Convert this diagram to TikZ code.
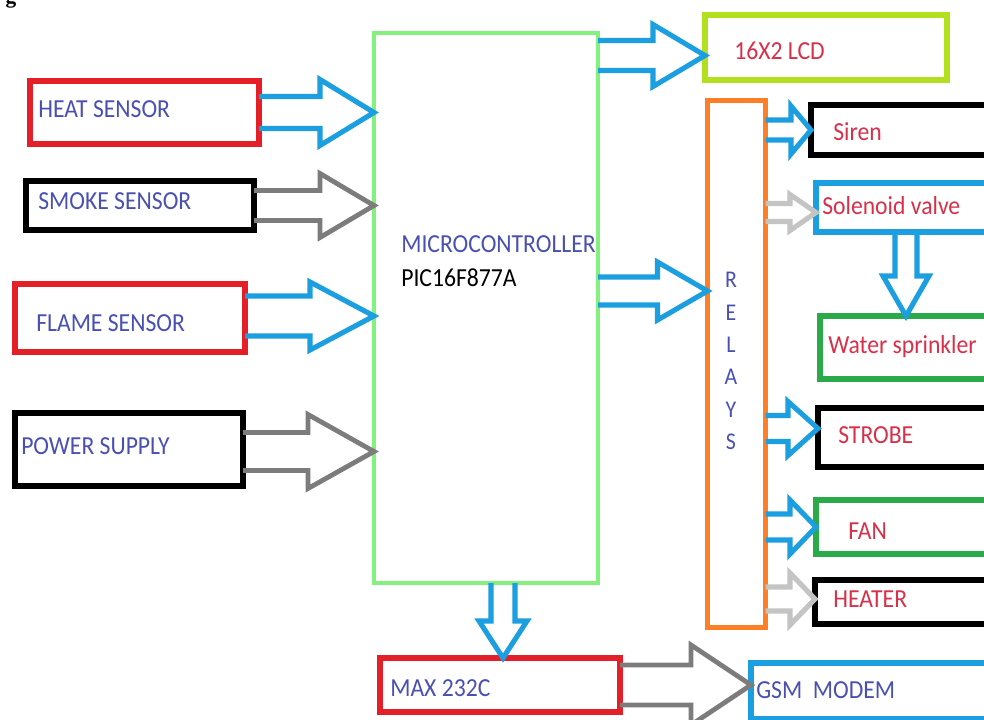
\documentclass[tikz,border=0pt]{standalone}
\usepackage{fontspec}
\setmainfont{Carlito}[FakeStretch=0.91]
\newfontfamily\serifg{Liberation Serif}
\usetikzlibrary{calc}
\definecolor{cred}{HTML}{E51F28}
\definecolor{cgreen}{HTML}{84F07E}
\definecolor{clime}{HTML}{B3E01E}
\definecolor{corange}{HTML}{FF7F27}
\definecolor{cdgreen}{HTML}{2AAA48}
\definecolor{cblue}{HTML}{1C9FE0}
\definecolor{cgray}{HTML}{7C7C7C}
\definecolor{clgray}{HTML}{C4C4C4}
\definecolor{tblue}{HTML}{4A50B2}
\definecolor{tred}{HTML}{D9304A}
\tikzset{
  box/.style={draw=#1, line width=4.5pt, rectangle, inner sep=0pt, outer sep=0pt},
  sz/.style 2 args={minimum width=#1*0.75pt, minimum height=#2*0.75pt},
  txt/.style={anchor=west, inner sep=0pt, font=\fontsize{19.5}{23}\selectfont, text=tblue},
  rtxt/.style={txt, text=tred},
  barrow/.style={draw=cblue, line width=3.8pt, line join=miter},
  garrow/.style={draw=cgray, line width=3.6pt, line join=miter},
  larrow/.style={draw=clgray, line width=3.8pt, line join=miter}
}
% right-pointing block arrow: style, start, tip, shaft half width, head half width, head length
\newcommand\rarr[6]{\draw[#1] ($(#2)+(0,#4)$) -- ($(#3)+(-#6,#4)$) -- ($(#3)+(-#6,#5)$) -- (#3) -- ($(#3)+(-#6,-#5)$) -- ($(#3)+(-#6,-#4)$) -- ($(#2)+(0,-#4)$);}
% down-pointing block arrow
\newcommand\darr[6]{\draw[#1] ($(#2)+(#4,0)$) -- ($(#3)+(#4,-#6)$) -- ($(#3)+(#5,-#6)$) -- (#3) -- ($(#3)+(-#5,-#6)$) -- ($(#3)+(-#4,-#6)$) -- ($(#2)+(-#4,0)$);}
\begin{document}
\begin{tikzpicture}[x=0.75pt,y=-0.75pt]
\useasboundingbox (0,0) rectangle (984,720);
\fill[white] (0,0) rectangle (984,720);
\node[font=\serifg\bfseries\fontsize{16}{16}\selectfont, anchor=base, inner sep=0pt] (figg) at (11,4) {g};

% input blocks
\node[box=cred, sz={229}{63}] (heat) at (144.5,112.5) {};
\node[box=black, sz={228}{49}] (smoke) at (140,205.5) {};
\node[box=cred, sz={230}{68}] (flame) at (130,318) {};
\node[box=black, sz={228}{73}] (power) at (129,449.5) {};
\node[txt] (heatT) at (38,109) {HEAT SENSOR};
\node[txt] (smokeT) at (38,201) {SMOKE SENSOR};
\node[txt] (flameT) at (36,323) {FLAME SENSOR};
\node[txt] (powerT) at (21,446) {POWER SUPPLY};

% microcontroller
\node[box=cgreen, line width=3pt, sz={224}{550}] (mcu) at (486,308) {};
\node[txt] (mcuT) at (401,244) {MICROCONTROLLER};
\node[txt, text=black] (picT) at (401,278) {PIC16F877A};

% LCD and relays
\node[box=clime, sz={242}{65}] (lcd) at (826,47.5) {};
\node[rtxt] (lcdT) at (734,51) {16X2 LCD};
\node[box=corange, line width=3.8pt, sz={58}{527}] (relays) at (736.5,364) {};
\node[anchor=center, align=center, inner sep=0pt, text=tblue, font=\fontsize{18}{24.3}\selectfont] (relT) at (731,361) {R\\E\\L\\A\\Y\\S};

% outputs
\node[box=black, sz={189}{50}] (siren) at (905.5,130) {};
\node[box=cblue, sz={184}{49}] (sol) at (908,207.5) {};
\node[box=cdgreen, sz={180}{63}] (water) at (910,347.5) {};
\node[box=black, sz={182}{59}] (strobe) at (909,437.5) {};
\node[box=cdgreen, sz={184}{54}] (fan) at (908,527) {};
\node[box=black, sz={185}{44}] (heater) at (907.5,602) {};
\node[rtxt] (sirenT) at (833,132) {Siren};
\node[rtxt] (solT) at (822,206) {Solenoid valve};
\node[rtxt] (waterT) at (828,347) {Water sprinkler};
\node[rtxt] (strobeT) at (838,435) {STROBE};
\node[rtxt] (fanT) at (848,531) {FAN};
\node[rtxt] (heaterT) at (833,599) {HEATER};

% bottom blocks
\node[box=cred, sz={240}{54}] (max) at (500,685) {};
\node[box=cblue, sz={249}{56}] (gsm) at (875.5,691) {};
\node[txt] (maxT) at (390,688) {MAX 232C};
\node[txt] (gsmT) at (756,690) {GSM\ \ MODEM};

% arrows into microcontroller
\coordinate (a1t) at (mcu.west |- heat.east);
\rarr{barrow}{heat.east}{a1t}{16}{33}{54}
\coordinate (a2t) at (mcu.west |- smoke.east);
\rarr{garrow}{smoke.east}{a2t}{15}{32}{54}
\coordinate (a3t) at ($(mcu.west |- flame.east)+(0,-2)$);
\coordinate (a3s) at (flame.east |- a3t);
\rarr{barrow}{a3s}{a3t}{20}{34}{64}
\coordinate (a4t) at ($(mcu.west |- power.east)+(0,2)$);
\coordinate (a4s) at (power.east |- a4t);
\rarr{garrow}{a4s}{a4t}{19}{37}{66}

% microcontroller outputs
\coordinate (a5t) at ($(lcd.west)+(0,8)$);
\coordinate (a5s) at (mcu.east |- a5t);
\rarr{barrow}{a5s}{a5t}{15}{31}{52}
\coordinate (a6t) at ($(relays.west)+(0,-73)$);
\coordinate (a6s) at (mcu.east |- a6t);
\rarr{barrow}{a6s}{a6t}{14}{29}{50}
\coordinate (a13t) at ($(max.north)+(3,0)$);
\coordinate (a13s) at (mcu.south -| a13t);
\darr{barrow}{a13s}{a13t}{12}{24}{37}

% relay outputs
\coordinate (b1s) at (relays.east |- siren.west);
\rarr{barrow}{b1s}{siren.west}{10}{24}{20}
\coordinate (b2t) at ($(sol.west)+(0,5)$);
\coordinate (b2s) at (relays.east |- b2t);
\rarr{larrow}{b2s}{b2t}{9}{18}{26}
\coordinate (b4t) at ($(strobe.west)+(0,-9)$);
\coordinate (b4s) at (relays.east |- b4t);
\rarr{barrow}{b4s}{b4t}{13}{27}{30}
\coordinate (b5s) at (relays.east |- fan.west);
\rarr{barrow}{b5s}{fan.west}{13}{27}{26}
\coordinate (b6t) at ($(heater.west)+(0,-3)$);
\coordinate (b6s) at (relays.east |- b6t);
\rarr{larrow}{b6s}{b6t}{12}{26}{25}

% solenoid to sprinkler
\coordinate (b3s) at ($(sol.south)+(-2,0)$);
\coordinate (b3t) at (water.north -| b3s);
\darr{barrow}{b3s}{b3t}{11}{23}{40}

% MAX232 to GSM
\coordinate (c1t) at (gsm.west |- max.east);
\rarr{garrow}{max.east}{c1t}{20}{40}{60}
\end{tikzpicture}
\end{document}
